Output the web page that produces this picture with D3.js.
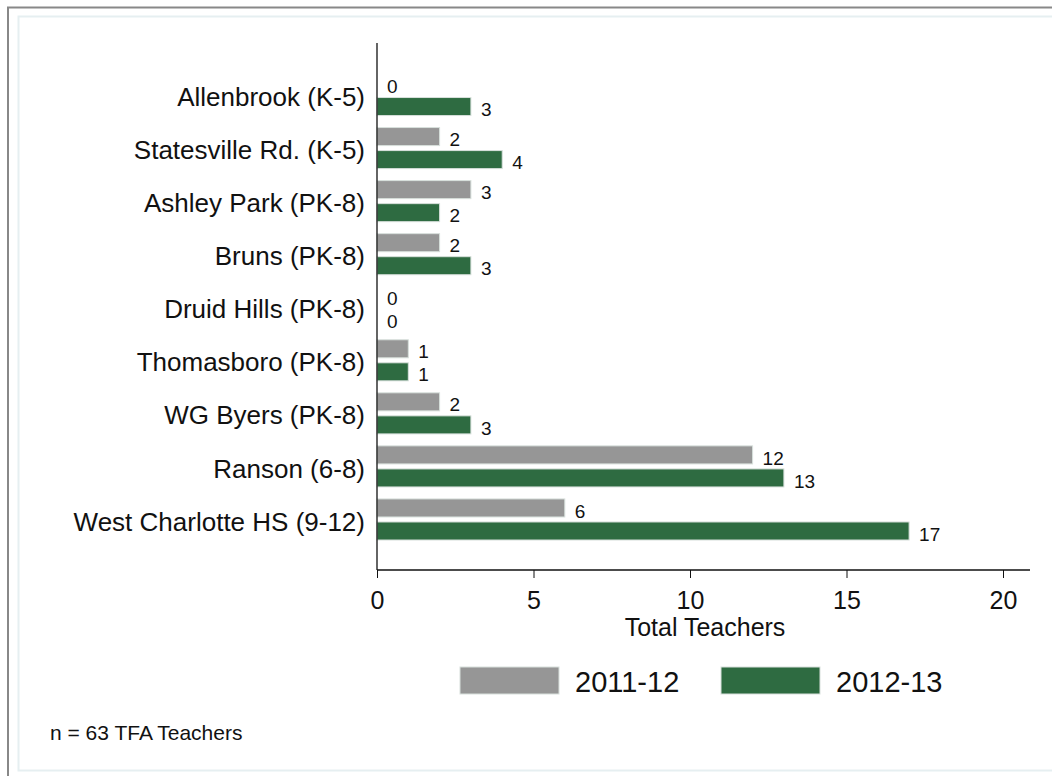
<!DOCTYPE html>
<html><head><meta charset="utf-8">
<script src="https://cdn.jsdelivr.net/npm/d3@7"></script>
<style>body{margin:0;background:#fff}svg{display:block;font-family:"Liberation Sans",Arial,sans-serif}</style>
</head><body>
<svg id="c" width="1052" height="776"></svg>
<script>
const categories = ["Allenbrook (K-5)","Statesville Rd. (K-5)","Ashley Park (PK-8)","Bruns (PK-8)","Druid Hills (PK-8)","Thomasboro (PK-8)","WG Byers (PK-8)","Ranson (6-8)","West Charlotte HS (9-12)"];
const series = ["2011-12","2012-13"];
const values2011 = [0,2,3,2,0,1,2,12,6];
const values2012 = [3,4,2,3,0,1,3,13,17];
const xTicks = [0,5,10,15,20];
const colors = ["#969696","#2e6b41"];

const svg = d3.select("#c");
// frame
svg.append("rect").attr("x",8).attr("y",7.5).attr("width",1060).attr("height",800).attr("fill","none").attr("stroke","#888").attr("stroke-width",2);
svg.append("rect").attr("x",18.5).attr("y",16.5).attr("width",1050).attr("height",754).attr("fill","#fff").attr("stroke","#e6eff1").attr("stroke-width",2);

const x = d3.scaleLinear().domain([0,20]).range([377,1003]);
const y = d3.scaleBand().domain(categories).range([68.5,546]).padding(0);
const sub = d3.scaleBand().domain(series).range([0,y.bandwidth()]).paddingInner(0.217).paddingOuter(0.26);

const data = categories.map((c,i)=>({c, vals:[values2011[i],values2012[i]]}));

const g = svg.append("g");
data.forEach(d=>{
  d.vals.forEach((v,j)=>{
    const yy = y(d.c)+sub(series[j]);
    if (v>0) g.append("rect").attr("x",x(0)).attr("y",yy).attr("width",x(v)-x(0)).attr("height",sub.bandwidth())
      .attr("fill",colors[j]).attr("stroke","#d8e0dc").attr("stroke-width",1);
    g.append("text").attr("x",x(v)+10).attr("y",yy+sub.bandwidth()/2+3).attr("dy","0.35em")
      .attr("font-size",19).attr("fill","#111").text(v);
  });
  g.append("text").attr("x",365).attr("y",y(d.c)+y.bandwidth()/2+2).attr("dy","0.35em").attr("text-anchor","end")
    .attr("font-size",26).attr("fill","#111").text(d.c);
});

// axes
svg.append("line").attr("x1",377).attr("x2",377).attr("y1",43).attr("y2",570).attr("stroke","#111").attr("stroke-width",1.3);
const xa = svg.append("g").attr("transform","translate(0,570)")
  .call(d3.axisBottom(x).tickValues(xTicks).tickSize(8).tickPadding(13));
xa.select(".domain").remove();
xa.append("line").attr("x1",377).attr("x2",1030).attr("stroke","#111").attr("stroke-width",1.3);
xa.selectAll(".tick line").attr("stroke","#111");
xa.selectAll(".tick text").attr("font-size",25).attr("fill","#111").attr("font-family","Liberation Sans, Arial, sans-serif");
svg.append("text").attr("x",705).attr("y",636).attr("text-anchor","middle").attr("font-size",25).attr("fill","#111").text("Total Teachers");

// legend
const leg = [[460,575],[721,836]];
series.forEach((s,j)=>{
  svg.append("rect").attr("x",leg[j][0]).attr("y",667).attr("width",99).attr("height",27).attr("fill",colors[j]).attr("stroke","#d8e0dc");
  svg.append("text").attr("x",leg[j][1]).attr("y",692).attr("font-size",29).attr("fill","#111").text(s);
});
svg.append("text").attr("x",50).attr("y",740).attr("font-size",21).attr("fill","#111").text("n = 63 TFA Teachers");
</script>
</body></html>
